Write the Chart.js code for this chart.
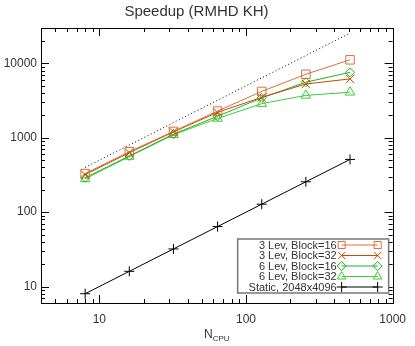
<!DOCTYPE html>
<html>
<head>
<meta charset="utf-8">
<script src="https://cdn.jsdelivr.net/npm/chart.js@4/dist/chart.umd.min.js"></script>
<style>
  body { margin: 0; background: #fff; }
  canvas { display: block; }
</style>
</head>
<body>
<canvas id="speedupChart" width="415" height="346"></canvas>
<script>
// processor counts
const nCpu = [8, 16, 32, 64, 128, 256, 512];

// speedup values
const lev3Block16 = [330, 650, 1220, 2290, 4210, 7160, 11200];
const lev3Block32 = [320, 630, 1200, 2200, 3500, 5300, 6200];
const lev6Block16 = [290, 570, 1120, 1950, 3450, 5600, 7600];
const lev6Block32 = [280, 560, 1100, 1820, 2880, 3720, 4100];
const staticRun   = [8, 16, 32, 64, 128, 256, 512];
const idealLine   = [400, 800, 1600, 3200, 6400, 12800, 25600];

// axis ticks
const xTicks = [10, 100, 1000];
const yTicks = [10, 100, 1000, 10000];

const labels = [
    '3 Lev, Block=16',
    '3 Lev, Block=32',
    '6 Lev, Block=16',
    '6 Lev, Block=32',
    'Static, 2048x4096'
];

const font = "'Liberation Sans', Arial, sans-serif";
const textColor = '#333';

function toPoints(values) {
    return nCpu.map((n, i) => ({ x: n, y: values[i] }));
}

function series(label, values, color, style, radius) {
    return {
        label: label,
        data: toPoints(values),
        borderColor: color,
        backgroundColor: 'rgba(0,0,0,0)',
        borderWidth: 1,
        pointStyle: style,
        pointRadius: radius,
        pointBorderWidth: 1,
        pointBorderColor: color,
        pointBackgroundColor: 'rgba(0,0,0,0)',
        tension: 0
    };
}

// inward ticks on all four sides, plus the frame
const frameTicks = {
    id: 'frameTicks',
    afterDatasetsDraw(chart) {
        const ctx = chart.ctx;
        const a = chart.chartArea;
        const xs = chart.scales.x, ys = chart.scales.y;
        ctx.save();
        ctx.strokeStyle = '#000';
        ctx.lineWidth = 1;
        ctx.beginPath();
        function minors(min, max) {
            const out = [];
            for (let d = 1; d <= 100000; d *= 10) {
                for (let m = 1; m <= 9; m++) {
                    const v = m * d;
                    if (v >= min && v <= max) out.push({ v: v, major: m === 1 });
                }
            }
            return out;
        }
        minors(xs.min, xs.max).forEach(t => {
            const px = Math.round(xs.getPixelForValue(t.v)) + 0.5;
            const len = t.major ? 8 : 4;
            ctx.moveTo(px, a.bottom); ctx.lineTo(px, a.bottom - len);
            ctx.moveTo(px, a.top); ctx.lineTo(px, a.top + len);
        });
        minors(ys.min, ys.max).forEach(t => {
            const py = Math.round(ys.getPixelForValue(t.v)) + 0.5;
            const len = t.major ? 8 : 4;
            ctx.moveTo(a.left, py); ctx.lineTo(a.left + len, py);
            ctx.moveTo(a.right, py); ctx.lineTo(a.right - len, py);
        });
        ctx.stroke();
        ctx.strokeRect(Math.round(a.left) + 0.5, Math.round(a.top) + 0.5,
            Math.round(a.right - a.left), Math.round(a.bottom - a.top));

        // x axis title with subscript
        const cx = (a.left + a.right) / 2;
        ctx.fillStyle = textColor;
        ctx.textBaseline = 'alphabetic';
        ctx.font = '12px ' + font;
        const wN = ctx.measureText('N').width;
        ctx.font = '8px ' + font;
        const wSub = ctx.measureText('CPU').width;
        const x0 = cx - (wN + wSub) / 2;
        ctx.font = '12px ' + font;
        ctx.textAlign = 'left';
        ctx.fillText('N', x0, a.bottom + 35);
        ctx.font = '8px ' + font;
        ctx.fillText('CPU', x0 + wN, a.bottom + 38);
        ctx.restore();
    }
};

// boxed legend in the lower right corner of the plot
const boxLegend = {
    id: 'boxLegend',
    afterDatasetsDraw(chart) {
        const ctx = chart.ctx;
        const a = chart.chartArea;
        const left = a.right - 155, right = a.right - 4;
        const top = a.bottom - 64, bottom = a.bottom - 10;
        ctx.save();
        ctx.fillStyle = '#fff';
        ctx.fillRect(left, top, right - left, bottom - top);
        ctx.strokeStyle = '#777';
        ctx.lineWidth = 1.5;
        ctx.strokeRect(left, top, right - left, bottom - top);
        ctx.font = '11px ' + font;
        ctx.textAlign = 'right';
        ctx.textBaseline = 'middle';
        const ds = chart.data.datasets.filter(d => d.label);
        ds.forEach((d, i) => {
            const y = top + 6 + i * 10.5;
            ctx.fillStyle = textColor;
            ctx.fillText(d.label, right - 52, y + 0.5);
            const l1 = right - 47, l2 = right - 11;
            ctx.strokeStyle = d.borderColor;
            ctx.lineWidth = 1;
            ctx.beginPath();
            ctx.moveTo(l1, y); ctx.lineTo(l2, y);
            ctx.stroke();
            const r = Math.min(d.pointRadius, 5);
            ctx.fillStyle = 'rgba(0,0,0,0)';
            [l1, l2].forEach(px => {
                Chart.helpers.drawPoint(ctx, {
                    pointStyle: d.pointStyle, rotation: 0, radius: r, borderWidth: 1
                }, px, y);
            });
        });
        ctx.restore();
    }
};

const ctx = document.getElementById('speedupChart').getContext('2d');

const chart = new Chart(ctx, {
    type: 'line',
    data: {
        datasets: [
            series(labels[0], lev3Block16, '#d9703a', 'rect', 6),
            series(labels[1], lev3Block32, '#c84800', 'crossRot', 6),
            series(labels[2], lev6Block16, '#1fb51f', 'rectRot', 4.5),
            series(labels[3], lev6Block32, '#3ccc3c', 'triangle', 5.5),
            series(labels[4], staticRun, '#000', 'cross', 5),
            {
                label: '',
                data: toPoints(idealLine),
                borderColor: '#000',
                borderWidth: 1,
                borderDash: [1, 2.5],
                pointRadius: 0,
                tension: 0
            }
        ]
    },
    options: {
        responsive: false,
        animation: false,
        layout: { padding: { left: 0, right: 22, top: 0, bottom: 0 } },
        plugins: {
            legend: { display: false },
            tooltip: { enabled: false },
            title: {
                display: true,
                text: 'Speedup (RMHD KH)',
                color: textColor,
                font: { family: font, size: 15, weight: 'normal', lineHeight: 1.2 },
                padding: { top: 3, bottom: 7 }
            }
        },
        scales: {
            x: {
                type: 'logarithmic',
                min: 4,
                max: 1000,
                grid: { display: false, drawTicks: false },
                border: { display: false },
                afterBuildTicks: s => { s.ticks = xTicks.map(v => ({ value: v })); },
                afterFit: s => { s.height = 43; },
                ticks: {
                    color: textColor,
                    font: { family: font, size: 12 },
                    padding: 9,
                    maxRotation: 0,
                    autoSkip: false,
                    callback: v => String(v)
                }
            },
            y: {
                type: 'logarithmic',
                min: 6,
                max: 30000,
                grid: { display: false, drawTicks: false },
                border: { display: false },
                afterBuildTicks: s => { s.ticks = yTicks.map(v => ({ value: v })); },
                afterFit: s => { s.width = 41; },
                ticks: {
                    color: textColor,
                    font: { family: font, size: 12 },
                    padding: 4,
                    autoSkip: false,
                    callback: v => String(v)
                }
            }
        }
    },
    plugins: [frameTicks, boxLegend]
});
</script>
</body>
</html>
